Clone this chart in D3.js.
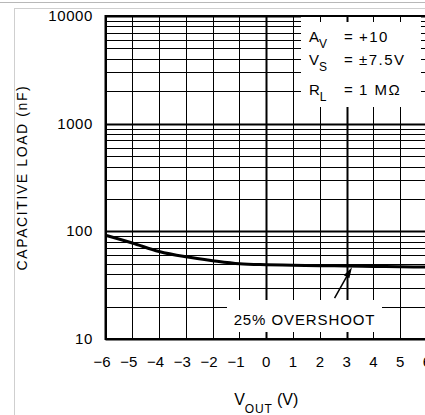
<!DOCTYPE html>
<html>
<head>
<meta charset="utf-8">
<script src="https://cdn.jsdelivr.net/npm/d3@7"></script>
<style>
  html, body { margin: 0; padding: 0; background: #fff; }
  svg { display: block; }
  text { font-family: "Liberation Sans", Arial, sans-serif; fill: #000; }
</style>
</head>
<body>
<script>
'use strict';

// Data
var vout = [-6, -5, -4, -3, -2, -1, 0, 1, 2, 3, 4, 5, 6];
var capLoad = [92, 78, 65, 58, 53.4, 50, 49, 48.5, 48, 47.6, 47.2, 46.9, 46.6];
var xTicks = [-6, -5, -4, -3, -2, -1, 0, 1, 2, 3, 4, 5, 6];
var yTicks = [10, 100, 1000, 10000];
var thickX = [0, 3];
var condSym = ['A', 'V', 'R'];
var condSub = ['V', 'S', 'L'];
var condVal = ['+10', '\u00b17.5V', '1 M\u03a9'];
var noteText = '25% OVERSHOOT';
var arrowFrom = [2.55, 24];
var arrowTo = [3.2, 46.5];

var W = 425, H = 415;
var svg = d3.select('body').append('svg')
	.attr('width', W)
	.attr('height', H);

// page frame
svg.append('line')
	.attr('x1', 0).attr('x2', W)
	.attr('y1', 2.5).attr('y2', 2.5)
	.attr('stroke', '#b8b8b8');
svg.append('rect')
	.attr('x', 14.5).attr('y', 8.5)
	.attr('width', W).attr('height', H)
	.attr('fill', 'none')
	.attr('stroke', '#cfcfcf');

var x = d3.scaleLinear().domain([-6, 6]).range([105.5, 427]);
var y = d3.scaleLog().domain([10, 10000]).range([339, 16]);

function px(v) { return Math.round(v) + 0.5; }

var grid = svg.append('g');

// horizontal grid (all log ticks)
grid.selectAll('line.h')
	.data(y.ticks())
	.enter()
	.append('line')
	.attr('x1', x(-6)).attr('x2', x(6))
	.attr('y1', function(d) { return px(y(d)); })
	.attr('y2', function(d) { return px(y(d)); })
	.attr('stroke', '#000')
	.attr('stroke-width', function(d) { return yTicks.indexOf(d) >= 0 ? 2 : 1; });

// vertical grid
grid.selectAll('line.v')
	.data(xTicks)
	.enter()
	.append('line')
	.attr('x1', function(d) { return px(x(d)); })
	.attr('x2', function(d) { return px(x(d)); })
	.attr('y1', y(10000)).attr('y2', y(10))
	.attr('stroke', '#000')
	.attr('stroke-width', function(d) { return thickX.indexOf(d) >= 0 ? 2 : 1; });

// white boxes with grid stubs at their edges
function noteBox(x0, y0, x1, y1) {
	svg.append('rect')
		.attr('x', x0).attr('y', y0)
		.attr('width', x1 - x0).attr('height', y1 - y0)
		.attr('fill', '#fff');
	var inside = xTicks.filter(function(d) { return x(d) > x0 && x(d) < x1; });
	var g = svg.append('g');
	[[y0, y0 + 5], [y1 - 6, y1]].forEach(function(r) {
		g.selectAll(null)
			.data(inside)
			.enter()
			.append('line')
			.attr('x1', function(d) { return px(x(d)); })
			.attr('x2', function(d) { return px(x(d)); })
			.attr('y1', r[0]).attr('y2', r[1])
			.attr('stroke', '#000')
			.attr('stroke-width', function(d) { return thickX.indexOf(d) >= 0 ? 2 : 1; });
	});
}
noteBox(301, 17, 421, 113);
noteBox(227, 295, 382, 338);

// plot border
svg.append('rect')
	.attr('x', x(-6)).attr('y', y(10000))
	.attr('width', x(6) - x(-6)).attr('height', y(10) - y(10000))
	.attr('fill', 'none')
	.attr('stroke', '#000')
	.attr('stroke-width', 2);

// curve
var line = d3.line()
	.x(function(d, i) { return x(vout[i]); })
	.y(function(d) { return y(d); })
	.curve(d3.curveMonotoneX);
svg.append('path')
	.datum(capLoad)
	.attr('d', line)
	.attr('fill', 'none')
	.attr('stroke', '#000')
	.attr('stroke-width', 3);

// arrow
var ax0 = x(arrowFrom[0]), ay0 = y(arrowFrom[1]);
var ax1 = x(arrowTo[0]), ay1 = y(arrowTo[1]);
var ang = Math.atan2(ay1 - ay0, ax1 - ax0);
svg.append('line')
	.attr('x1', ax0).attr('y1', ay0)
	.attr('x2', ax1 - 6 * Math.cos(ang)).attr('y2', ay1 - 6 * Math.sin(ang))
	.attr('stroke', '#000')
	.attr('stroke-width', 1.5);
svg.append('path')
	.attr('d', 'M0,0L-11,-3.2L-11,3.2Z')
	.attr('transform', 'translate(' + ax1 + ',' + ay1 + ') rotate(' + (ang * 180 / Math.PI) + ')')
	.attr('fill', '#000');

// tick labels
svg.selectAll('text.yl')
	.data(yTicks)
	.enter()
	.append('text')
	.attr('x', 93)
	.attr('y', function(d) { return y(d) + 5; })
	.attr('text-anchor', 'end')
	.style('font-size', '15px')
	.style('letter-spacing', '0.6px')
	.text(function(d) { return d; });

svg.selectAll('text.xl')
	.data(xTicks)
	.enter()
	.append('text')
	.attr('x', function(d) { return x(d) - (d < 0 ? 3.5 : 0); })
	.attr('y', 367)
	.attr('text-anchor', 'middle')
	.style('font-size', '15px')
	.text(function(d) { return d < 0 ? '\u2212' + Math.abs(d) : d; });

// axis titles
svg.append('text')
	.attr('transform', 'translate(27,' + ((y(10) + y(10000)) / 2) + ') rotate(-90)')
	.attr('text-anchor', 'middle')
	.style('font-size', '14px')
	.style('letter-spacing', '1.6px')
	.text('CAPACITIVE LOAD (nF)');

var xt = svg.append('text')
	.attr('x', (x(-6) + x(6)) / 2)
	.attr('y', 405)
	.attr('text-anchor', 'middle')
	.style('font-size', '16px');
xt.append('tspan').text('V');
xt.append('tspan').attr('dy', 8).style('font-size', '12px').style('letter-spacing', '0.8px').text('OUT');
xt.append('tspan').attr('dy', -8).text(' (V)');

// conditions
var condY = [42, 65, 95];
condSym.forEach(function(s, i) {
	var t = svg.append('text')
		.attr('x', 309)
		.attr('y', condY[i])
		.style('font-size', '15px');
	t.append('tspan').text(s);
	t.append('tspan').attr('dy', 6).style('font-size', '12px').text(condSub[i]);
	svg.append('text')
		.attr('x', 344).attr('y', condY[i])
		.style('font-size', '15px')
		.text('=');
	svg.append('text')
		.attr('x', 359).attr('y', condY[i])
		.style('font-size', '15px')
		.style('letter-spacing', '1.5px')
		.text(condVal[i]);
});

svg.append('text')
	.attr('x', (227 + 382) / 2)
	.attr('y', 325)
	.attr('text-anchor', 'middle')
	.style('font-size', '15px')
	.style('letter-spacing', '0.9px')
	.text(noteText);
</script>
</body>
</html>
